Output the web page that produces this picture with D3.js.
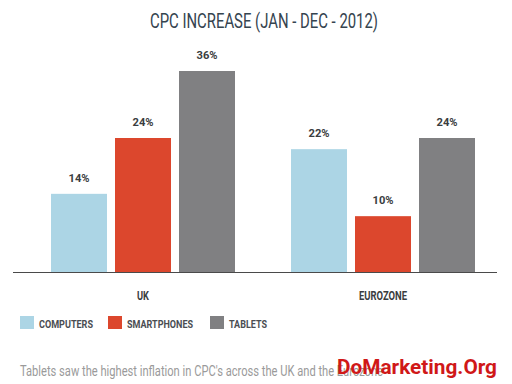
<!DOCTYPE html>
<html>
<head>
<meta charset="utf-8">
<script src="https://cdn.jsdelivr.net/npm/d3@7"></script>
<style>
  body { margin: 0; background: #fff; }
  text { font-family: "Roboto", "Liberation Sans", sans-serif; }
</style>
</head>
<body>
<div id="chart"></div>
<script>
const width = 512;
const height = 384;

const regions = ["UK", "EUROZONE"];
const devices = ["COMPUTERS", "SMARTPHONES", "TABLETS"];
const colors = ["#acd5e5", "#dc472d", "#808082"];
// % CPC increase per region, one list per device
const computers = [14, 22];
const smartphones = [24, 10];
const tablets = [36, 24];
const series = [computers, smartphones, tablets];

// the original uses a condensed face; squeeze text to the widths it takes
const squeeze = (sel, len) => sel
  .attr("textLength", len)
  .attr("lengthAdjust", "spacingAndGlyphs");

const svg = d3.select("#chart")
  .append("svg")
  .attr("width", width)
  .attr("height", height)
  .style("background", "white");

svg.append("text")
  .attr("x", 264)
  .attr("y", 28)
  .attr("text-anchor", "middle")
  .attr("font-size", "20px")
  .attr("fill", "#35444f")
  .call(squeeze, 228)
  .text("CPC INCREASE (JAN - DEC - 2012)");

const baseline = 272;
const y = d3.scaleLinear().domain([0, 36]).range([baseline, 71]);

const x0 = d3.scaleBand().domain(regions).range([23, 503]);
const x1 = d3.scaleBand().domain(devices)
  .range([x0.bandwidth() / 2 - 92, x0.bandwidth() / 2 + 92])
  .paddingInner(0.125);

const groups = svg.selectAll("g.region")
  .data(regions)
  .enter()
  .append("g")
  .attr("class", "region")
  .attr("transform", d => `translate(${x0(d)},0)`);

groups.selectAll("rect")
  .data((r, i) => devices.map((dv, j) => ({ device: dv, value: series[j][i], color: colors[j] })))
  .enter()
  .append("rect")
  .attr("x", d => x1(d.device))
  .attr("width", x1.bandwidth())
  .attr("y", d => y(d.value))
  .attr("height", d => baseline - y(d.value))
  .attr("fill", d => d.color);

groups.selectAll("text.value")
  .data((r, i) => devices.map((dv, j) => ({ device: dv, value: series[j][i] })))
  .enter()
  .append("text")
  .attr("class", "value")
  .attr("x", d => x1(d.device) + x1.bandwidth() / 2)
  .attr("y", d => y(d.value) - 12)
  .attr("text-anchor", "middle")
  .attr("font-size", "11px")
  .attr("font-weight", "bold")
  .attr("fill", "#3a3d40")
  .call(squeeze, 21)
  .text(d => d.value + "%");

const regionWidths = { UK: 12, EUROZONE: 48 };
groups.append("text")
  .attr("x", x0.bandwidth() / 2)
  .attr("y", 300)
  .attr("text-anchor", "middle")
  .attr("font-size", "12px")
  .attr("font-weight", "bold")
  .attr("fill", "#3a3d40")
  .attr("textLength", d => regionWidths[d])
  .attr("lengthAdjust", "spacingAndGlyphs")
  .text(d => d);

svg.append("line")
  .attr("x1", 13)
  .attr("x2", 497)
  .attr("y1", baseline + 0.5)
  .attr("y2", baseline + 0.5)
  .attr("stroke", "#4a4a4a")
  .attr("stroke-width", 1);

// Legend
const legendX = [20, 108, 210];
const legendW = [54, 66, 38];
const legend = svg.selectAll("g.legend")
  .data(devices)
  .enter()
  .append("g")
  .attr("class", "legend")
  .attr("transform", (d, i) => `translate(${legendX[i]},316)`);

legend.append("rect")
  .attr("width", 14)
  .attr("height", 13)
  .attr("fill", (d, i) => colors[i]);

legend.append("text")
  .attr("x", 19)
  .attr("y", 12)
  .attr("font-size", "11px")
  .attr("font-weight", "bold")
  .attr("fill", "#4a4d52")
  .attr("textLength", (d, i) => legendW[i])
  .attr("lengthAdjust", "spacingAndGlyphs")
  .text(d => d);

svg.append("text")
  .attr("x", 20)
  .attr("y", 376)
  .attr("font-size", "14px")
  .attr("fill", "#9a9a9a")
  .call(squeeze, 363)
  .text("Tablets saw the highest inflation in CPC's across the UK and the Eurozone");

svg.append("text")
  .attr("x", 337)
  .attr("y", 374)
  .attr("font-family", "DejaVu Serif, serif")
  .attr("font-size", "20px")
  .attr("font-weight", "bold")
  .attr("fill", "#d01818")
  .call(squeeze, 160)
  .text("DoMarketing.Org");
</script>
</body>
</html>
